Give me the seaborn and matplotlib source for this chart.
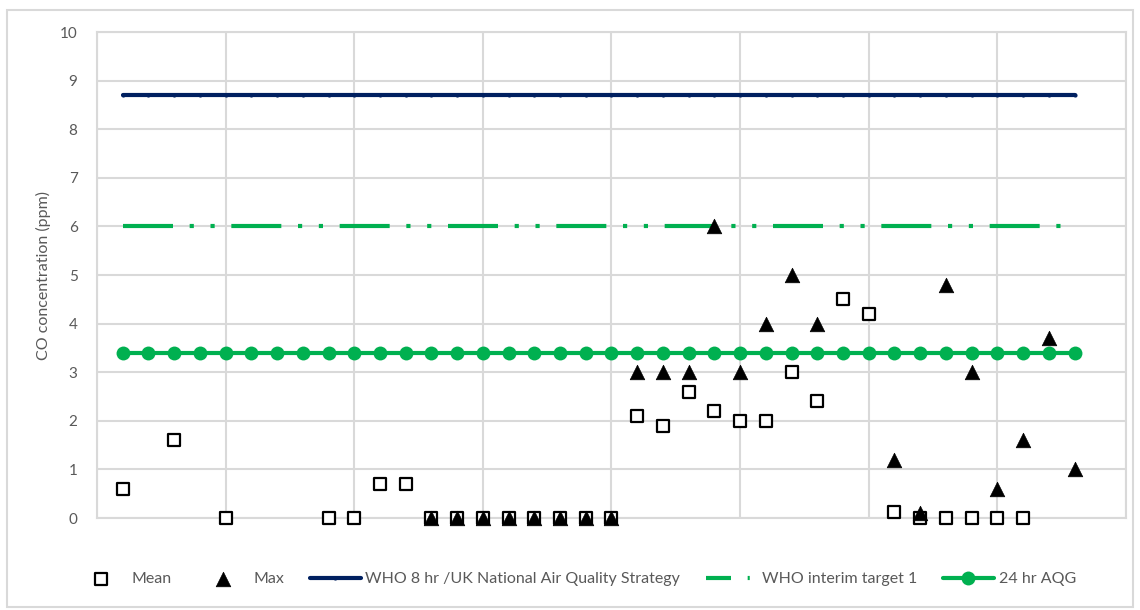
import numpy as np
import pandas as pd
import matplotlib
matplotlib.use("Agg")
import matplotlib.pyplot as plt
import seaborn as sns

# sample positions along the x axis (no labels shown)
sample = list(range(1, 39))
nan = np.nan

mean_co = [0.6, nan, 1.6, nan, 0.0, nan, nan, nan, 0.0, 0.0, 0.7, 0.7,
           0.0, 0.0, 0.0, 0.0, 0.0, 0.0, 0.0, 0.0,
           2.1, 1.9, 2.6, 2.2, 2.0, 2.0, 3.0, 2.4, 4.5, 4.2,
           0.12, 0.0, 0.0, 0.0, 0.0, 0.0, nan, nan]
max_co = [nan, nan, nan, nan, nan, nan, nan, nan, nan, nan, nan, nan,
          0.0, 0.0, 0.0, 0.0, 0.0, 0.0, 0.0, 0.0,
          3.0, 3.0, 3.0, 6.0, 3.0, 4.0, 5.0, 4.0, nan, nan,
          1.2, 0.1, 4.8, 3.0, 0.6, 1.6, 3.7, 1.0]
who_8hr = [8.7] * 38
who_interim = [6.0] * 38
aqg_24hr = [3.4] * 38

df = pd.DataFrame({"sample": sample, "Mean": mean_co, "Max": max_co,
                   "who8": who_8hr, "interim": who_interim, "aqg": aqg_24hr})

sns.set_theme(style="white")
plt.rcParams['font.family'] = ['Lato', 'DejaVu Sans']
grey = "#595959"
grid = "#d9d9d9"

fig = plt.figure(figsize=(11.4, 6.1), dpi=100)
ax = fig.add_axes([0.0851, 0.1508, 0.9026, 0.7967])

sns.lineplot(data=df, x="sample", y="who8", ax=ax, color="#002060", lw=3,
             marker="o", markersize=3, markeredgewidth=0,
             label="WHO 8 hr /UK National Air Quality Strategy", zorder=3)
sns.lineplot(data=df, x="sample", y="interim", ax=ax, color="#00b050", lw=3,
             label="WHO interim target 1", zorder=3)
ax.lines[-1].set_dashes([12, 4, 1, 4, 1, 4])
sns.lineplot(data=df, x="sample", y="aqg", ax=ax, color="#00b050", lw=3,
             marker="o", markersize=10, markeredgewidth=0,
             label="24 hr AQG", zorder=3)
sns.scatterplot(data=df, x="sample", y="Mean", ax=ax, marker="s", s=80,
                facecolor="white", edgecolor="black", linewidth=1.6,
                label="Mean", zorder=4, clip_on=False)
sns.scatterplot(data=df, x="sample", y="Max", ax=ax, marker="^", s=110,
                color="black", edgecolor="black", linewidth=0.5,
                label="Max", zorder=5, clip_on=False)

ax.set_xlim(0, 40)
ax.set_ylim(0, 10)
ax.set_xticks(range(0, 41, 5))
ax.set_xticklabels([])
ax.set_yticks(range(0, 11))
ax.tick_params(axis="y", labelsize=11, labelcolor=grey, length=0, pad=14)
ax.tick_params(axis="x", length=0)
ax.grid(True, color=grid, lw=1.5)
ax.set_axisbelow(True)
for s in ax.spines.values():
    s.set_color(grid)
    s.set_linewidth(1.5)
ax.set_xlabel("")
ax.set_ylabel("CO concentration (ppm)", fontsize=11.5, color=grey, labelpad=6)

h, l = ax.get_legend_handles_labels()
ax.get_legend().remove()
order = [3, 4, 0, 1, 2]
leg = fig.legend([h[i] for i in order], [l[i] for i in order], loc="lower center",
                 bbox_to_anchor=(0.505, 0.015), ncol=5, frameon=False, fontsize=11.5,
                 labelcolor=grey, handlelength=3.2, handletextpad=0.3,
                 columnspacing=1.6)
# short dash + dot in the legend key, like the reference
leg.legend_handles[3].set_dashes([6, 4, 0.5, 4])

# outer chart border
fig.patches.append(plt.Rectangle((0.006, 0.005), 0.988, 0.978, transform=fig.transFigure,
                                 fill=False, edgecolor=grid, lw=1.5))

fig.savefig("out.png", dpi=100, facecolor="white")
